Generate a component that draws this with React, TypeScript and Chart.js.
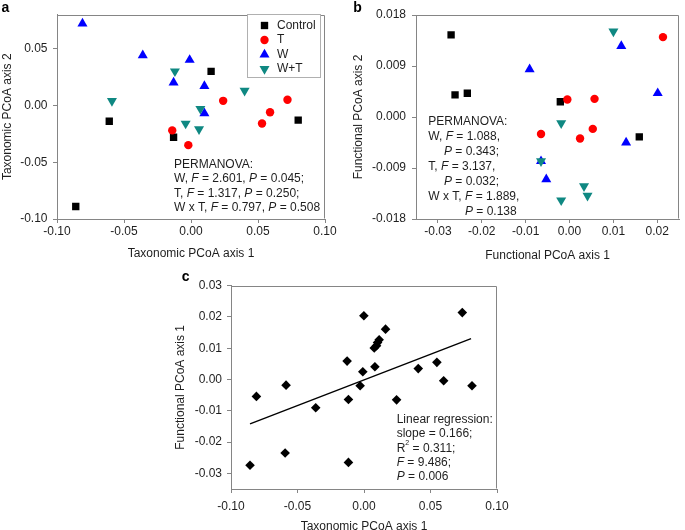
import React, { useEffect, useRef } from 'react';
import { Chart, registerables } from 'chart.js';

Chart.register(...registerables);

const FONT = "'Liberation Sans', Arial, Helvetica, sans-serif";
const AXIS = '#858585';
const TXT = '#1e1e1e';
const BLACK = '#000000';
const RED = '#ff0000';
const BLUE = '#0000ff';
const TEAL = '#0f8882';
const TRI_R = 5.8;

// ---------- Panel a: taxonomic PCoA ----------
const aControlX = [0.015, -0.061, -0.013, 0.080, -0.086];
const aControlY = [0.030, -0.014, -0.028, -0.013, -0.089];
const aTX = [0.024, 0.072, 0.059, 0.053, -0.014, -0.002];
const aTY = [0.004, 0.005, -0.006, -0.016, -0.022, -0.035];
const aWX = [-0.081, -0.036, -0.001, -0.013, 0.010, 0.010];
const aWY = [0.072, 0.044, 0.040, 0.020, 0.017, -0.007];
const aWTX = [-0.059, -0.012, 0.040, 0.007, -0.004, 0.006];
const aWTY = [0.004, 0.030, 0.013, -0.003, -0.016, -0.021];
const aXTicks = [-0.1, -0.05, 0, 0.05, 0.1];
const aYTicks = [-0.1, -0.05, 0, 0.05];

// ---------- Panel b: functional PCoA ----------
const bControlX = [-0.027, -0.0261, -0.0233, -0.0021, 0.0159];
const bControlY = [0.0145, 0.0039, 0.0042, 0.0027, -0.0035];
const bTX = [0.0213, -0.0005, 0.0057, 0.0053, 0.0024, -0.0065];
const bTY = [0.0141, 0.0031, 0.0032, -0.0021, -0.0038, -0.003];
const bWX = [-0.0091, 0.0118, 0.0201, 0.0129, -0.0053, -0.0065];
const bWY = [0.0084, 0.0125, 0.0042, -0.0045, -0.011, -0.0078];
const bWTX = [0.01, -0.0019, -0.0065, 0.0033, 0.0041, -0.0019];
const bWTY = [0.0151, -0.0011, -0.0078, -0.0122, -0.0139, -0.0147];
const bXTicks = [-0.03, -0.02, -0.01, 0, 0.01, 0.02];
const bYTicks = [-0.018, -0.009, 0, 0.009, 0.018];

// ---------- Panel c: regression ----------
const cX = [-0.0857, -0.0809, -0.0593, -0.0586, -0.0363, -0.0127, -0.0117, -0.0117, -0.0029, -0.0009, -0.0001, 0.0077, 0.0082, 0.0094, 0.0102, 0.0114, 0.0162, 0.0245, 0.0408, 0.0548, 0.0599, 0.0739, 0.0812];
const cY = [-0.0274, -0.0054, -0.0235, -0.0018, -0.009, 0.0059, -0.0064, -0.0265, -0.002, 0.0025, 0.0204, 0.0101, 0.0041, 0.0108, 0.0118, 0.0127, 0.0161, -0.0065, 0.0035, 0.0055, -0.0004, 0.0214, -0.002];
const regLineX = [-0.0857, 0.0805];
const regLineY = [-0.0142, 0.0131];
const cXTicks = [-0.1, -0.05, 0, 0.05, 0.1];
const cYTicks = [-0.03, -0.02, -0.01, 0, 0.01, 0.02, 0.03];

const groupLabels = ['Control', 'T', 'W', 'W+T'];

type Seg = { t: string; i?: boolean; sup?: boolean };
type TLine = { dx: number; segs: Seg[] };

const pts = (xs: number[], ys: number[]) => xs.map((x, i) => ({ x, y: ys[i] }));

function drawRich(ctx: CanvasRenderingContext2D, x: number, y: number, segs: Seg[], size: number) {
  let cx = x;
  ctx.textBaseline = 'middle';
  ctx.textAlign = 'left';
  ctx.fillStyle = TXT;
  for (const s of segs) {
    const fs = s.sup ? Math.round(size * 0.6) : size;
    ctx.font = `${s.i ? 'italic ' : ''}${fs}px ${FONT}`;
    ctx.fillText(s.t, cx, s.sup ? y - size * 0.4 : y);
    cx += ctx.measureText(s.t).width;
  }
}

function marker(ctx: CanvasRenderingContext2D, kind: string, x: number, y: number, color: string) {
  ctx.fillStyle = color;
  ctx.beginPath();
  if (kind === 'rect') {
    const h = 5.2 * Math.SQRT1_2;
    ctx.rect(x - h, y - h, 2 * h, 2 * h);
  } else if (kind === 'circle') {
    ctx.arc(x, y, 4.2, 0, Math.PI * 2);
  } else {
    const r = TRI_R;
    const s = kind === 'up' ? 1 : -1;
    ctx.moveTo(x, y - s * r);
    ctx.lineTo(x + 0.866 * r, y + s * 0.5 * r);
    ctx.lineTo(x - 0.866 * r, y + s * 0.5 * r);
    ctx.closePath();
  }
  ctx.fill();
}

type DecoCfg = {
  letter: string;
  lx: number;
  ly: number;
  tx: number;
  ty: number;
  gap: number;
  lines: TLine[];
  legend?: boolean;
};

function makeDeco(cfg: DecoCfg) {
  return {
    id: 'deco',
    beforeDatasetsDraw(chart: any) {
      const ctx = chart.ctx as CanvasRenderingContext2D;
      const a = chart.chartArea;
      const L = Math.round(a.left) + 0.5;
      const R = Math.round(a.right) - 0.5;
      const T = Math.round(a.top) + 0.5;
      const B = Math.round(a.bottom) - 0.5;
      ctx.save();
      ctx.strokeStyle = AXIS;
      ctx.lineWidth = 1;
      ctx.beginPath();
      ctx.moveTo(L, T);
      ctx.lineTo(R, T);
      ctx.lineTo(R, B);
      ctx.stroke();
      ctx.restore();
    },
    afterDatasetsDraw(chart: any) {
      const ctx = chart.ctx as CanvasRenderingContext2D;
      ctx.save();
      ctx.fillStyle = '#000';
      ctx.font = `bold 14px ${FONT}`;
      ctx.textBaseline = 'alphabetic';
      ctx.textAlign = 'left';
      ctx.fillText(cfg.letter, cfg.lx, cfg.ly);
      cfg.lines.forEach((ln, i) => drawRich(ctx, cfg.tx + ln.dx, cfg.ty + i * cfg.gap, ln.segs, 12));
      if (cfg.legend) {
        ctx.fillStyle = '#fff';
        ctx.fillRect(247.5, 14.5, 73, 63);
        ctx.strokeStyle = '#b0b0b0';
        ctx.lineWidth = 1;
        ctx.strokeRect(247.5, 14.5, 73, 63);
        const kinds = ['rect', 'circle', 'up', 'down'];
        const cols = [BLACK, RED, BLUE, TEAL];
        groupLabels.forEach((lab, i) => {
          const yy = 25.5 + i * 14.5;
          marker(ctx, kinds[i], 264.5, yy, cols[i]);
          ctx.fillStyle = TXT;
          ctx.font = `12px ${FONT}`;
          ctx.textBaseline = 'middle';
          ctx.fillText(lab, 277, yy);
        });
      }
      ctx.restore();
    },
  };
}

function axis(min: number, max: number, ticks: number[], dec: number, title: string, size: number, pad: number) {
  return {
    type: 'linear',
    min,
    max,
    afterBuildTicks: (s: any) => {
      s.ticks = ticks.map((v) => ({ value: v }));
    },
    afterFit: (s: any) => {
      if (s.isHorizontal()) s.height = size;
      else s.width = size;
    },
    grid: { drawOnChartArea: false, drawTicks: true, tickLength: 4, color: AXIS, lineWidth: 1 },
    border: { display: true, color: AXIS, width: 1 },
    ticks: {
      font: { family: FONT, size: 12 },
      color: TXT,
      padding: pad,
      maxRotation: 0,
      autoSkip: false,
      callback: (v: any) => Number(v).toFixed(dec),
    },
    title: { display: true, text: title, font: { family: FONT, size: 12 }, color: TXT, padding: 0 },
  };
}

function groupSets(cx: number[], cy: number[], tx: number[], ty: number[], wx: number[], wy: number[], wtx: number[], wty: number[]) {
  return [
    { label: 'Control', data: pts(cx, cy), pointStyle: 'rect', pointRadius: 5.2, backgroundColor: BLACK, borderWidth: 0, order: 4 },
    { label: 'T', data: pts(tx, ty), pointStyle: 'circle', pointRadius: 4.2, backgroundColor: RED, borderWidth: 0, order: 3 },
    { label: 'W', data: pts(wx, wy), pointStyle: 'triangle', pointRadius: TRI_R, backgroundColor: BLUE, borderWidth: 0, order: 2 },
    { label: 'W+T', data: pts(wtx, wty), pointStyle: 'triangle', rotation: 180, pointRadius: TRI_R, backgroundColor: TEAL, borderWidth: 0, order: 1 },
  ];
}

function baseOptions(padTop: number, padRight: number, scales: any) {
  return {
    responsive: false,
    animation: false,
    devicePixelRatio: 1,
    events: [],
    layout: { padding: { top: padTop, right: padRight, left: 0, bottom: 0 } },
    plugins: { legend: { display: false }, tooltip: { enabled: false } },
    scales,
  };
}

const configA = () => ({
  type: 'scatter',
  data: { datasets: groupSets(aControlX, aControlY, aTX, aTY, aWX, aWY, aWTX, aWTY) },
  options: baseOptions(14.5, 15, {
    x: axis(-0.1, 0.1, aXTicks, 2, 'Taxonomic PCoA axis 1', 42, 1),
    y: axis(-0.1, 0.08, aYTicks, 2, 'Taxonomic PCoA axis 2', 57, 5.5),
  }),
  plugins: [
    makeDeco({
      letter: 'a', lx: 1.5, ly: 11.5, tx: 174, ty: 164.3, gap: 14.5, legend: true,
      lines: [
        { dx: 0, segs: [{ t: 'PERMANOVA:' }] },
        { dx: 0, segs: [{ t: 'W, ' }, { t: 'F', i: true }, { t: ' = 2.601, ' }, { t: 'P', i: true }, { t: ' = 0.045;' }] },
        { dx: 0, segs: [{ t: 'T, ' }, { t: 'F', i: true }, { t: ' = 1.317, ' }, { t: 'P', i: true }, { t: ' = 0.250;' }] },
        { dx: 0, segs: [{ t: 'W x T, ' }, { t: 'F', i: true }, { t: ' = 0.797, ' }, { t: 'P', i: true }, { t: ' = 0.508' }] },
      ],
    }),
  ],
});

const configB = () => ({
  type: 'scatter',
  data: { datasets: groupSets(bControlX, bControlY, bTX, bTY, bWX, bWY, bWTX, bWTY) },
  options: baseOptions(15, 3, {
    x: axis(-0.035, 0.025, bXTicks, 2, 'Functional PCoA axis 1', 44, 1),
    y: axis(-0.018, 0.018, bYTicks, 3, 'Functional PCoA axis 2', 65, 6),
  }),
  plugins: [
    makeDeco({
      letter: 'b', lx: 2.3, ly: 11.7, tx: 77.3, ty: 121.7, gap: 15,
      lines: [
        { dx: 0, segs: [{ t: 'PERMANOVA:' }] },
        { dx: 0, segs: [{ t: 'W, ' }, { t: 'F', i: true }, { t: ' = 1.088,' }] },
        { dx: 15.7, segs: [{ t: 'P', i: true }, { t: ' = 0.343;' }] },
        { dx: 0, segs: [{ t: 'T, ' }, { t: 'F', i: true }, { t: ' = 3.137,' }] },
        { dx: 15.7, segs: [{ t: 'P', i: true }, { t: ' = 0.032;' }] },
        { dx: 0, segs: [{ t: 'W x T, ' }, { t: 'F', i: true }, { t: ' = 1.889,' }] },
        { dx: 36.7, segs: [{ t: 'P', i: true }, { t: ' = 0.138' }] },
      ],
    }),
  ],
});

const configC = () => ({
  type: 'scatter',
  data: {
    datasets: [
      { label: 'samples', data: pts(cX, cY), pointStyle: 'rectRot', pointRadius: 4.8, backgroundColor: BLACK, borderWidth: 0, order: 1 },
      { type: 'line', label: 'fit', data: pts(regLineX, regLineY), showLine: true, borderColor: BLACK, borderWidth: 1.4, pointRadius: 0, fill: false, order: 2 },
    ],
  },
  options: baseOptions(25.7, 21, {
    x: axis(-0.1, 0.1, cXTicks, 2, 'Taxonomic PCoA axis 1', 45, 6),
    y: axis(-0.035, 0.03, cYTicks, 2, 'Functional PCoA axis 1', 58, 5),
  }),
  plugins: [
    makeDeco({
      letter: 'c', lx: 8.7, ly: 20.7, tx: 223.7, ty: 160, gap: 14.1,
      lines: [
        { dx: 0, segs: [{ t: 'Linear regression:' }] },
        { dx: 0, segs: [{ t: 'slope = 0.166;' }] },
        { dx: 0, segs: [{ t: 'R' }, { t: '2', sup: true }, { t: ' = 0.311;' }] },
        { dx: 0, segs: [{ t: 'F', i: true }, { t: ' = 9.486;' }] },
        { dx: 0, segs: [{ t: 'P', i: true }, { t: ' = 0.006' }] },
      ],
    }),
  ],
});

function ChartBox({ left, top, width, height, make }: { left: number; top: number; width: number; height: number; make: () => any }) {
  const ref = useRef<HTMLCanvasElement>(null);
  useEffect(() => {
    const chart = new Chart(ref.current as HTMLCanvasElement, make());
    return () => chart.destroy();
  }, []);
  return (
    <div style={{ position: 'absolute', left, top, width, height }}>
      <canvas ref={ref} width={width} height={height} style={{ width, height, display: 'block' }} />
    </div>
  );
}

export default function App() {
  return (
    <div style={{ position: 'absolute', left: 0, top: 0, width: 685, height: 530, overflow: 'hidden', background: '#fff' }}>
      <ChartBox left={0} top={0} width={340} height={261} make={configA} />
      <ChartBox left={351} top={0} width={334} height={263} make={configB} />
      <ChartBox left={173} top={260} width={345} height={274} make={configC} />
    </div>
  );
}
